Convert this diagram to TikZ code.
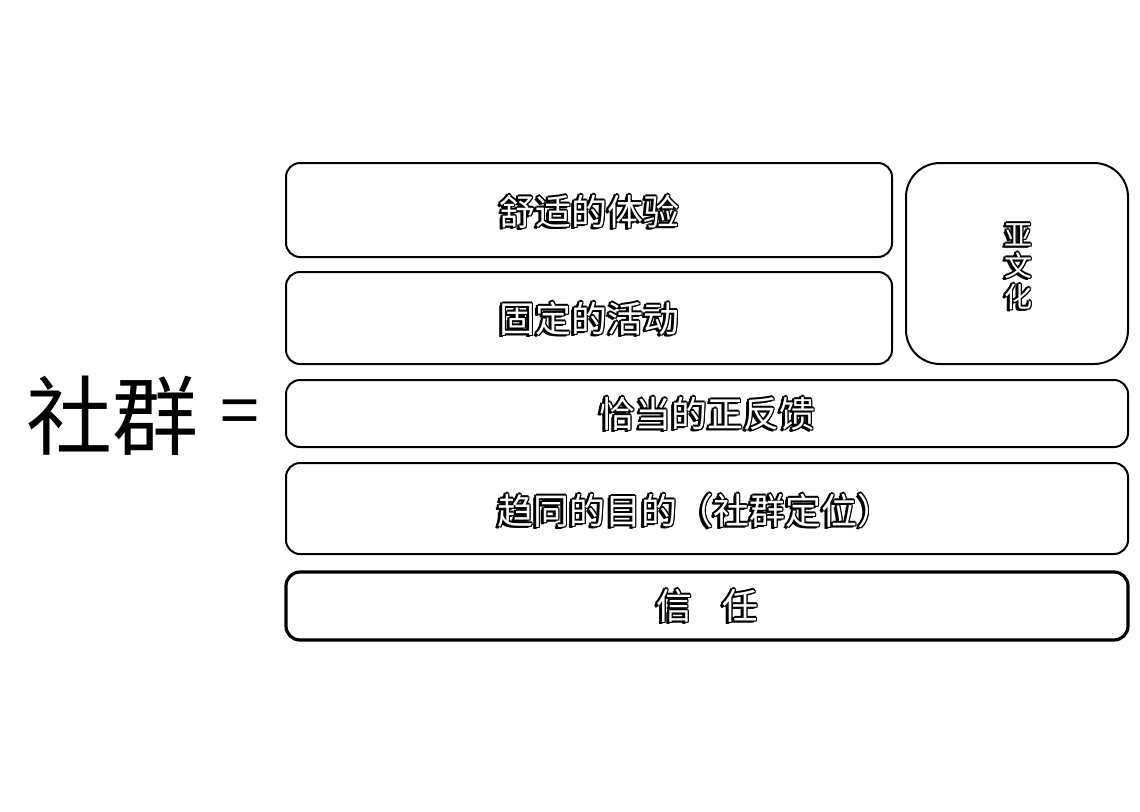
\documentclass[tikz,border=0pt]{standalone}
\usepackage{fontspec}
\newfontfamily\cjk{Noto Sans CJK SC}
\newcommand{\shcopy}[3]{\rlap{\kern#1\raisebox{#2}{#3}}}
\newcommand{\outl}[1]{\shcopy{-1.5pt}{0pt}{#1}\shcopy{1.5pt}{0pt}{#1}\shcopy{0pt}{1.5pt}{#1}\shcopy{0pt}{-1.5pt}{#1}\shcopy{-1.1pt}{1.1pt}{#1}\shcopy{1.1pt}{1.1pt}{#1}\shcopy{-1.1pt}{-1.1pt}{#1}\shcopy{1.1pt}{-1.1pt}{#1}\shcopy{-2.2pt}{-2.2pt}{#1}\shcopy{-1.5pt}{-2.5pt}{#1}{\color{white}#1}}
\tikzset{
  layer/.style={draw=black, line width=2pt, rounded corners=14pt, fill=white},
  boxtext/.style={font=\cjk\fontsize{36}{40}\selectfont, text=black, inner sep=0pt},
}
\begin{document}
\begin{tikzpicture}[x=1pt,y=-1pt]
\useasboundingbox[fill=white] (0,0) rectangle (1140,811);
% boxes
\draw[layer] (286,163) rectangle (892,257);
\draw[layer] (286,272) rectangle (892,364);
\draw[layer, rounded corners=34pt] (906,163) rectangle (1128,364);
\draw[layer] (286,380) rectangle (1128,447);
\draw[layer] (286,463) rectangle (1128,554);
\draw[layer, line width=3.2pt] (286,572) rectangle (1128,640);
% texts
\node[boxtext] (t1) at (589,212) {\outl{舒适的体验}};
\node[boxtext] (t2) at (589,319) {\outl{固定的活动}};
\node[boxtext] (t3) at (707,414) {\outl{恰当的正反馈}};
\node[boxtext] (t4) at (695,511) {\outl{趋同的目的（社群定位）}};
\node[boxtext] (t5) at (707,606) {\outl{信}\hspace{30pt}\outl{任}};
\node[boxtext, font=\cjk\fontsize{28}{31}\selectfont, align=center] (t6) at (1018,267) {\outl{亚}\\\outl{文}\\\outl{化}};
\node[font=\cjk\fontsize{86}{90}\selectfont, inner sep=0pt] (lbl) at (112,416) {社群};
\node[font=\cjk\fontsize{70}{80}\selectfont, inner sep=0pt] (eq) at (240,418) {=};
\end{tikzpicture}
\end{document}
